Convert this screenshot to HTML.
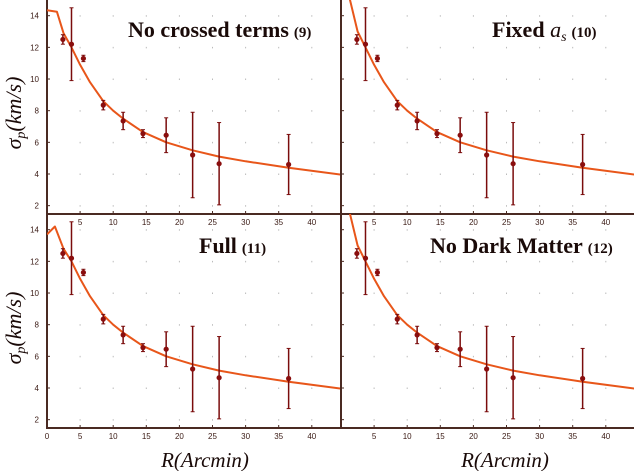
<!DOCTYPE html>
<html><head><meta charset="utf-8"><style>
body{margin:0;background:#fff}
svg{display:block}
.t{font-family:"Liberation Serif",serif;font-weight:bold;fill:#1a0a08}
.tk{font-family:"Liberation Sans",sans-serif;font-size:8px;fill:#3a1a14}
</style></head><body>
<svg id="c" width="635" height="471" viewBox="0 0 635 471" xmlns="http://www.w3.org/2000/svg"></svg>
<script>
const radii=[2.4,3.7,5.5,8.5,11.5,14.5,18,22,26,36.5];
const sigma=[12.5,12.2,11.3,8.35,7.35,6.55,6.45,5.2,4.65,4.6];
const errs=[0.3,2.3,0.2,0.3,0.55,0.25,1.1,2.7,2.6,1.9];
const fitR=[1.3,2.5,3.7,5,6.5,8.5,10,11.5,14.5,18,22,26,30,36.5,44.6];
const fitV=[15.1,13.0,12.0,10.9,9.8,8.6,8.0,7.5,6.65,6.0,5.5,5.1,4.8,4.4,3.95];
const fitTopR=[0,1.5,2.5,3.7,5,6.5,8.5,10,11.5,14.5,18,22,26,30,36.5,44.6];
const fitTopV=[14.35,14.25,12.9,12.0,10.9,9.8,8.6,8.0,7.5,6.65,6.0,5.5,5.1,4.8,4.4,3.95];
const fitFullR=[0,1.2,2.5,3.7,5,6.5,8.5,10,11.5,14.5,18,22,26,30,36.5,44.6];
const fitFullV=[13.7,14.2,12.8,12.0,10.9,9.8,8.6,8.0,7.5,6.65,6.0,5.5,5.1,4.8,4.4,3.95];
const xTicks=[0,5,10,15,20,25,30,35,40];
const yTicks=[2,4,6,8,10,12,14];
const panels=[
 {name:'no-crossed-terms',x0:47,x1:341,yTop:0,yBot:214,title:'No crossed terms',num:'(9)',tx:128,ty:37,ylab:true,fit:'top',showZero:false},
 {name:'fixed-as',x0:341,x1:634,yTop:0,yBot:214,title:'Fixed ',num:'(10)',tx:492,ty:37,ylab:false,fit:'std',showZero:false,as:true},
 {name:'full',x0:47,x1:341,yTop:214,yBot:428,title:'Full',num:'(11)',tx:199,ty:253,ylab:true,fit:'full',showZero:true},
 {name:'no-dark-matter',x0:341,x1:634,yTop:214,yBot:428,title:'No Dark Matter',num:'(12)',tx:430,ty:253,ylab:false,fit:'std',showZero:false}
];
const NS='http://www.w3.org/2000/svg';
const svg=document.getElementById('c');
function mk(tag,attrs,parent){const e=document.createElementNS(NS,tag);for(const k in attrs)e.setAttribute(k,attrs[k]);(parent||svg).appendChild(e);return e;}
const PX=6.62, PY=15.83;
panels.forEach(p=>{
  const g=mk('g',{});
  
  
  const sx=v=>p.x0+v*PX;
  const y14=p.yTop+15.7;
  const sy=v=>y14+(14-v)*PY;
  const cp=mk('clipPath',{id:'cl'+p.name},g);
  mk('rect',{x:p.x0,y:p.yTop,width:p.x1-p.x0,height:p.yBot-p.yTop},cp);
  xTicks.forEach(t=>{if(t===0)return;yTicks.forEach(v=>{mk('rect',{x:sx(t)-0.5,y:sy(v)-0.5,width:1,height:1.5,fill:'#bbb'},g);});});
  const ax=mk('path',{d:`M${p.x0},${p.yTop} V${p.yBot} H${p.x1}`,stroke:'#4a2a22','stroke-width':2,fill:'none'},g);
  
  
  xTicks.forEach(t=>{
    if(t===0&&!p.showZero)return;
    mk('line',{x1:sx(t),x2:sx(t),y1:p.yBot,y2:p.yBot-3,stroke:'#4a2a22'},g);
    const tl=mk('text',{x:sx(t),y:p.yBot+11,'text-anchor':'middle',class:'tk'},g);
    
    
    tl.textContent=t;
  });
  yTicks.forEach(v=>{
    mk('line',{x1:p.x0,x2:p.x0+3,y1:sy(v),y2:sy(v),stroke:'#4a2a22'},g);
    if(p.ylab){
      const tl=mk('text',{x:p.x0-8,y:sy(v)+3,'text-anchor':'end',class:'tk'},g);
      
      
      tl.textContent=v;
    }
  });
  const R=p.fit==='full'?fitFullR:(p.fit==='top'?fitTopR:fitR);
  const V=p.fit==='full'?fitFullV:(p.fit==='top'?fitTopV:fitV);
  const cg=mk('g',{'clip-path':`url(#cl${p.name})`},g);
  const d=R.map((r,i)=>(i?'L':'M')+sx(r).toFixed(1)+','+sy(V[i]).toFixed(1)).join(' ');
  const cv=mk('path',{d:d,stroke:'#e8561a','stroke-width':2,fill:'none','stroke-linejoin':'round'},cg);
  
  
  radii.forEach((r,i)=>{
    const x=sx(r),y=sy(sigma[i]),e=errs[i];
    const eb=mk('line',{x1:x,x2:x,y1:sy(sigma[i]+e),y2:sy(sigma[i]-e),stroke:'#7a0c0c','stroke-width':1.5},cg);
    
    
    mk('line',{x1:x-2,x2:x+2,y1:sy(sigma[i]+e),y2:sy(sigma[i]+e),stroke:'#7a0c0c'},cg);
    mk('line',{x1:x-2,x2:x+2,y1:sy(sigma[i]-e),y2:sy(sigma[i]-e),stroke:'#7a0c0c'},cg);
    const pt=mk('circle',{cx:x,cy:y,r:2.6,fill:'#8a0e0e'},cg);
    
    
  });
  const t=mk('text',{x:p.tx,y:p.ty,class:'t','font-size':22},g);
  
  
  t.textContent=p.title;
  if(p.as){const a=mk('tspan',{'font-style':'italic','font-weight':'normal'},t);a.textContent='a';const s=mk('tspan',{'font-style':'italic','font-weight':'normal','font-size':14,dy:4},t);s.textContent='s';}
  const n=mk('tspan',{'font-size':15,dy:p.as?-4:0,dx:5},t);n.textContent=p.num;
});
[[205,'x-axis-title-left'],[505,'x-axis-title-right']].forEach(([x,nm])=>{
  const t=mk('text',{x:x,y:467,'text-anchor':'middle','font-family':'Liberation Serif,serif','font-style':'italic','font-size':21,fill:'#1a0a08'});
  
  
  t.textContent='R(Arcmin)';
});
[[113,'y-axis-title-top'],[328,'y-axis-title-bottom']].forEach(([y,nm])=>{
  const t=mk('text',{x:0,y:0,transform:`translate(21,${y}) rotate(-90)`,'text-anchor':'middle','font-family':'Liberation Serif,serif','font-style':'italic','font-size':22,fill:'#1a0a08'});
  
  
  t.textContent='σ';
  const s=mk('tspan',{'font-size':14,dy:4},t);s.textContent='p';
  const r=mk('tspan',{dy:-4},t);r.textContent='(km/s)';
});
</script>
</body></html>
